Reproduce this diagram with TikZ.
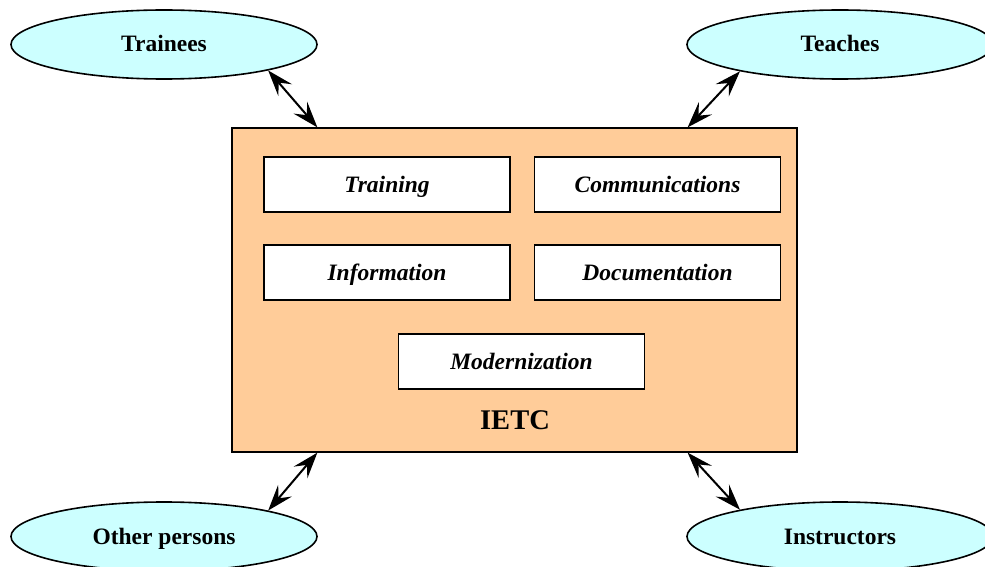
\documentclass[tikz,border=0pt]{standalone}
\usepackage{fontspec}
\setmainfont{Liberation Serif}
\usetikzlibrary{shapes.geometric,arrows.meta,calc}
\definecolor{actorfill}{RGB}{204,255,255}
\definecolor{boxfill}{RGB}{255,204,153}
\begin{document}
\begin{tikzpicture}[x=1pt,y=-1pt,
  actor/.style={ellipse,draw=black,line width=1.6pt,fill=actorfill,minimum width=306pt,minimum height=69pt,inner sep=0pt,text height=20pt,text depth=5pt,font=\fontsize{23.5}{26}\selectfont\bfseries},
  part/.style={rectangle,draw=black,line width=1.3pt,fill=white,minimum width=246pt,minimum height=55pt,inner sep=0pt,text height=20pt,text depth=5pt,font=\fontsize{23.5}{26}\selectfont\bfseries\itshape},
  link/.style={line width=2pt,{Stealth[length=26pt,width=18pt,inset=10pt]}-{Stealth[length=26pt,width=18pt,inset=10pt]}}]
\useasboundingbox (0,0) rectangle (985,567);
\node[rectangle,draw=black,line width=1.3pt,fill=boxfill,minimum width=565pt,minimum height=324pt,inner sep=0pt] (box) at (514.5,290) {};
\node[part] (training) at (387,184.5) {Training};
\node[part] (comm) at (657.5,184.5) {Communications};
\node[part] (info) at (387,272.5) {Information};
\node[part] (doc) at (657.5,272.5) {Documentation};
\node[part] (mod) at (521.5,361.5) {Modernization};
\node[font=\fontsize{28.5}{32}\selectfont\bfseries] (ietc) at (515,420) {IETC};
\node[actor] (trainees) at (164,44.5) {Trainees};
\node[actor] (teaches) at (840,44.5) {Teaches};
\node[actor] (other) at (164,536.5) {Other persons};
\node[actor] (instr) at (840,536.5) {Instructors};
\coordinate (b1) at ($(box.north west)+(86,0)$);
\coordinate (b2) at ($(box.north east)+(-110,0)$);
\coordinate (b3) at ($(box.south west)+(86,0)$);
\coordinate (b4) at ($(box.south east)+(-110,0)$);
\draw[link] (trainees.-14) -- (b1);
\draw[link] (teaches.-165.8) -- (b2);
\draw[link] (other.14.2) -- (b3);
\draw[link] (instr.165.4) -- (b4);
\end{tikzpicture}
\end{document}
